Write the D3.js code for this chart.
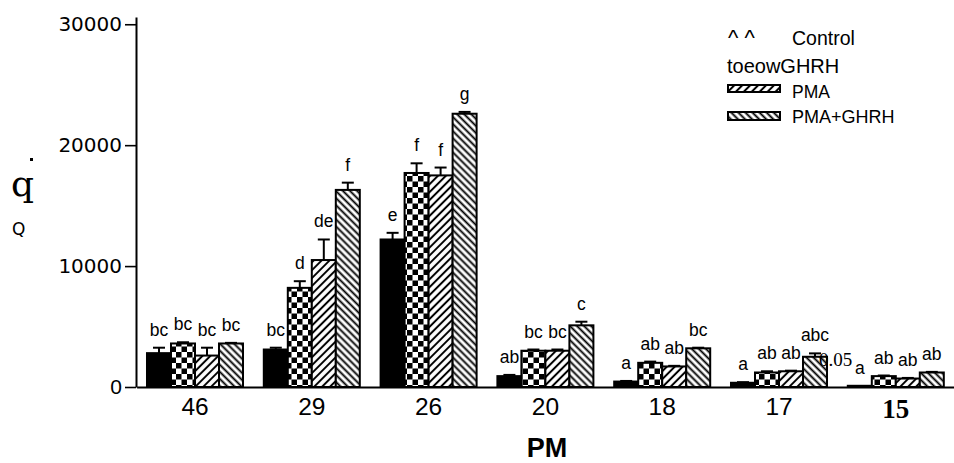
<!DOCTYPE html>
<html>
<head>
<meta charset="utf-8">
<script src="https://cdn.jsdelivr.net/npm/d3@7"></script>
<style>
  html, body { margin: 0; padding: 0; background: #fff; }
  svg { display: block; }
  text { fill: #000; }
</style>
</head>
<body>
<svg id="chart" width="954" height="463"></svg>
<script>
// Peptide concentration groups (x categories) and the four treatments
const categories = ["46", "29", "26", "20", "18", "17", "15"];
const seriesNames = ["Control", "GHRH", "PMA", "PMA+GHRH"];

// Mean response per group
const controlValues = [2800, 3100, 12200, 900, 450, 350, 100];
const ghrhValues    = [3600, 8200, 17700, 3000, 2000, 1200, 900];
const pmaValues     = [2600, 10500, 17500, 3000, 1700, 1300, 700];
const pmaGhrhValues = [3600, 16300, 22600, 5100, 3200, 2500, 1200];

// Standard errors
const controlErr = [450, 150, 550, 100, 50, 50, 0];
const ghrhErr    = [100, 550, 800, 100, 100, 100, 50];
const pmaErr     = [650, 1700, 650, 100, 50, 50, 50];
const pmaGhrhErr = [50, 600, 150, 300, 50, 280, 50];

// Significance letters
const controlLetters = ["bc", "bc", "e", "ab", "a", "a", "a"];
const ghrhLetters    = ["bc", "d", "f", "bc", "ab", "ab", "ab"];
const pmaLetters     = ["bc", "de", "f", "bc", "ab", "ab", "ab"];
const pmaGhrhLetters = ["bc", "f", "g", "c", "bc", "abc", "ab"];

const yTicks = [0, 10000, 20000, 30000];

const valuesBySeries  = [controlValues, ghrhValues, pmaValues, pmaGhrhValues];
const errBySeries     = [controlErr, ghrhErr, pmaErr, pmaGhrhErr];
const lettersBySeries = [controlLetters, ghrhLetters, pmaLetters, pmaGhrhLetters];

const rows = [];
categories.forEach((c, i) => {
  seriesNames.forEach((s, j) => {
    rows.push({ cat: c, series: s, value: valuesBySeries[j][i], err: errBySeries[j][i], letter: lettersBySeries[j][i] });
  });
});

const svg = d3.select("#chart");
const SANS = "Arial, 'Liberation Sans', sans-serif";
const SERIF = "'Liberation Serif', 'Times New Roman', serif";

// ---- fill patterns ----
const defs = svg.append("defs");
const checker = defs.append("pattern").attr("id", "pat-checker")
  .attr("patternUnits", "userSpaceOnUse").attr("width", 11).attr("height", 11);
checker.append("rect").attr("width", 11).attr("height", 11).attr("fill", "#fff");
checker.append("rect").attr("width", 5.5).attr("height", 5.5).attr("fill", "#000");
checker.append("rect").attr("x", 5.5).attr("y", 5.5).attr("width", 5.5).attr("height", 5.5).attr("fill", "#000");

function hatch(id, angle, gap, sw) {
  const p = defs.append("pattern").attr("id", id)
    .attr("patternUnits", "userSpaceOnUse").attr("width", gap).attr("height", 10)
    .attr("patternTransform", `rotate(${angle})`);
  p.append("rect").attr("width", gap).attr("height", 10).attr("fill", "#fff");
  p.append("line").attr("x1", gap / 2).attr("x2", gap / 2).attr("y1", 0).attr("y2", 10)
    .attr("stroke", "#000").attr("stroke-width", sw);
}
hatch("pat-fwd", 45, 5.6, 2);
hatch("pat-back", -45, 5, 1.9);

const fills = { "Control": "#000", "GHRH": "url(#pat-checker)", "PMA": "url(#pat-fwd)", "PMA+GHRH": "url(#pat-back)" };

// ---- scales ----
const x = d3.scaleBand().domain(categories).range([136.6, 954.2]).paddingInner(0.178).paddingOuter(0.089);
const xs = d3.scaleBand().domain(seriesNames).range([0, x.bandwidth()]);
const y = d3.scaleLinear().domain([0, 30600]).range([387, 17]);

// ---- bars ----
const bars = svg.append("g");
bars.selectAll("rect").data(rows).join("rect")
  .attr("x", d => x(d.cat) + xs(d.series))
  .attr("y", d => y(d.value))
  .attr("width", xs.bandwidth())
  .attr("height", d => y(0) - y(d.value))
  .attr("fill", d => fills[d.series])
  .attr("stroke", "#000").attr("stroke-width", 2);

// ---- error bars ----
const eb = svg.append("g").attr("stroke", "#000").attr("stroke-width", 2);
rows.filter(d => d.err > 0).forEach(d => {
  const cx = x(d.cat) + xs(d.series) + xs.bandwidth() / 2;
  eb.append("line").attr("x1", cx).attr("x2", cx).attr("y1", y(d.value)).attr("y2", y(d.value + d.err));
  eb.append("line").attr("x1", cx - 6).attr("x2", cx + 6).attr("y1", y(d.value + d.err)).attr("y2", y(d.value + d.err));
});

// ---- significance letters ----
svg.append("g").selectAll("text").data(rows).join("text")
  .attr("x", d => x(d.cat) + xs(d.series) + xs.bandwidth() / 2)
  .attr("y", d => y(d.value + d.err) - 12)
  .attr("text-anchor", "middle")
  .style("font-family", SANS).style("font-size", "17.5px")
  .text(d => d.letter);

// ---- y axis ----
const yAxis = svg.append("g").attr("transform", "translate(136,0)")
  .call(d3.axisLeft(y).tickValues(yTicks).tickSize(11).tickSizeOuter(0).tickPadding(3)
    .tickFormat(d3.format("d")));
yAxis.select(".domain").attr("stroke", "#000").attr("stroke-width", 2);
yAxis.selectAll(".tick line").attr("stroke", "#000").attr("stroke-width", 1.6);
yAxis.selectAll(".tick text")
  .style("font-family", d => d === 0 ? SANS : "'DejaVu Sans', sans-serif")
  .style("font-size", d => d === 0 ? "21px" : "20px")
  .attr("fill", "#111");

// ---- x axis ----
const xAxis = svg.append("g").attr("transform", `translate(0,${y(0)})`)
  .call(d3.axisBottom(x).tickSize(0).tickSizeOuter(0).tickPadding(28));
xAxis.select(".domain").attr("stroke", "#000").attr("stroke-width", 2);
xAxis.selectAll(".tick text")
  .attr("dy", 0)
  .style("font-family", d => d === "15" ? SERIF : SANS)
  .style("font-weight", d => d === "15" ? "bold" : "normal")
  .style("font-size", d => d === "15" ? "27px" : "24.5px")
  .attr("y", d => d === "15" ? 31 : 28);

svg.append("text").attr("x", 547).attr("y", 457).attr("text-anchor", "middle")
  .style("font-family", SANS).style("font-weight", "bold").style("font-size", "27px")
  .text("PM");

// ---- y axis title ----
svg.append("rect").attr("x", 30).attr("y", 158).attr("width", 3).attr("height", 3).attr("fill", "#000");
svg.append("text").attr("x", 11).attr("y", 196)
  .style("font-family", "'DejaVu Serif', serif").style("font-size", "36px").text("q");
svg.append("text").attr("x", 12).attr("y", 235)
  .style("font-family", "'DejaVu Sans', sans-serif").style("font-size", "17px").text("Q");

// ---- stray annotation ----
svg.append("text").attr("x", 819).attr("y", 366)
  .style("font-family", SERIF).style("font-size", "19px").text("0.05");

// ---- legend ----
const lg = svg.append("g");
lg.append("text").attr("x", 728).attr("y", 45).style("font-family", SANS).style("font-size", "22px").text("^ ^");
lg.append("text").attr("x", 792).attr("y", 45).style("font-family", SANS).style("font-size", "19.5px").text("Control");
lg.append("text").attr("x", 727).attr("y", 73).style("font-family", SANS).style("font-size", "20px").text("toeowGHRH");
lg.append("rect").attr("x", 728).attr("y", 85).attr("width", 52).attr("height", 7)
  .attr("fill", fills["PMA"]).attr("stroke", "#000").attr("stroke-width", 2);
lg.append("text").attr("x", 792).attr("y", 98).style("font-family", SANS).style("font-size", "17.5px").text("PMA");
lg.append("rect").attr("x", 728).attr("y", 112).attr("width", 52).attr("height", 8)
  .attr("fill", fills["PMA+GHRH"]).attr("stroke", "#000").attr("stroke-width", 2);
lg.append("text").attr("x", 792).attr("y", 123).style("font-family", SANS).style("font-size", "18px").text("PMA+GHRH");
</script>
</body>
</html>
